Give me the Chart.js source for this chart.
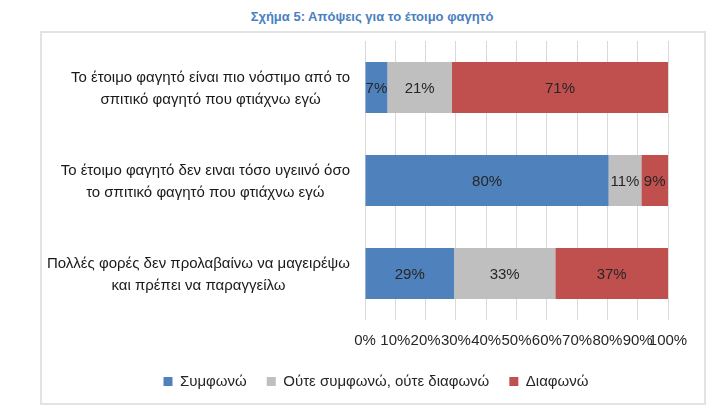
<!DOCTYPE html>
<html>
<head>
<meta charset="utf-8">
<script src="https://cdn.jsdelivr.net/npm/chart.js@4/dist/chart.umd.min.js"></script>
<style>
  html, body { margin: 0; padding: 0; background: #ffffff; }
  #wrap { position: relative; width: 717px; height: 408px; overflow: hidden; }
  #title { position: absolute; left: 0; width: 744px; top: 9px; text-align: center;
    font: bold 13px "Liberation Sans", Arial, sans-serif; color: #4a7fc1; }
  #box { position: absolute; left: 40px; top: 31px; width: 662px; height: 370px;
    border: 2px solid #e3e3e3; pointer-events: none; }
  canvas { position: absolute; left: 0; top: 0; }
</style>
</head>
<body>
<div id="wrap">
  <div id="title">Σχήμα 5: Απόψεις για το έτοιμο φαγητό</div>
  <div id="box"></div>
  <canvas id="c" width="717" height="408"></canvas>
</div>
<script>
const categories = [
  ["Το έτοιμο φαγητό είναι πιο νόστιμο από το", "σπιτικό φαγητό που φτιάχνω εγώ"],
  ["Το έτοιμο φαγητό δεν ειναι τόσο υγειινό όσο", "το σπιτικό φαγητό που φτιάχνω εγώ"],
  ["Πολλές φορές δεν προλαβαίνω να μαγειρέψω", "και πρέπει να παραγγείλω"]
];
const seriesNames = ["Συμφωνώ", "Ούτε συμφωνώ, ούτε διαφωνώ", "Διαφωνώ"];
const agree    = [7.4, 80.4, 29.4];
const neutral  = [21.3, 10.8, 33.4];
const disagree = [71.3, 8.8, 37.2];
const xTicks = [0, 10, 20, 30, 40, 50, 60, 70, 80, 90, 100];
const colors = ["#4f81bd", "#bfbfbf", "#c0504d"];

const FONT = "'Liberation Sans', Arial, sans-serif";

const valueLabels = {
  id: 'valueLabels',
  afterDatasetsDraw(chart) {
    const ctx = chart.ctx;
    ctx.save();
    ctx.font = "15px " + FONT;
    ctx.fillStyle = "#262626";
    ctx.textAlign = "center";
    ctx.textBaseline = "middle";
    chart.data.datasets.forEach((ds, di) => {
      const meta = chart.getDatasetMeta(di);
      meta.data.forEach((el, i) => {
        const v = ds.data[i];
        const cx = (el.x + el.base) / 2;
        ctx.fillText(Math.round(v) + "%", cx, el.y + 1);
      });
    });
    ctx.restore();
  }
};

const catLabels = {
  id: 'catLabels',
  afterDraw(chart) {
    const ctx = chart.ctx;
    const ys = chart.scales.y;
    ctx.save();
    ctx.font = "15px " + FONT;
    ctx.fillStyle = "#1a1a1a";
    ctx.textAlign = "center";
    ctx.textBaseline = "middle";
    const lh = 22;
    categories.forEach((lines, i) => {
      const cy = ys.getPixelForValue(i);
      const maxW = Math.max(...lines.map(l => ctx.measureText(l).width));
      const right = ys.right - 15;
      const cx = right - maxW / 2;
      const y0 = cy - (lines.length - 1) * lh / 2 + 1;
      lines.forEach((l, k) => ctx.fillText(l, cx, y0 + k * lh));
    });
    ctx.restore();
  }
};

new Chart(document.getElementById('c'), {
  type: 'bar',
  data: {
    labels: categories,
    datasets: [
      { label: seriesNames[0], data: agree, backgroundColor: colors[0] },
      { label: seriesNames[1], data: neutral, backgroundColor: colors[1] },
      { label: seriesNames[2], data: disagree, backgroundColor: colors[2] }
    ]
  },
  options: {
    indexAxis: 'y',
    responsive: false,
    animation: false,
    devicePixelRatio: 1,
    layout: { padding: { left: 84, right: 49, top: 41, bottom: 9 } },
    datasets: { bar: { categoryPercentage: 1, barPercentage: 0.55 } },
    scales: {
      x: {
        stacked: true, min: 0, max: 100,
        afterBuildTicks: s => { s.ticks = xTicks.map(v => ({ value: v })); },
        afterFit: s => { s.height -= 8; },
        ticks: {
          autoSkip: false, maxRotation: 0, padding: 12,
          color: "#262626", font: { family: FONT, size: 15 },
          callback: v => v + "%"
        },
        grid: { color: "#d9d9d9", drawTicks: false, lineWidth: 1 },
        border: { display: false }
      },
      y: {
        stacked: true,
        ticks: { display: false },
        grid: { display: false },
        border: { display: false },
        afterFit: s => { s.width = 281; }
      }
    },
    plugins: {
      legend: {
        position: 'bottom',
        labels: {
          boxWidth: 9, boxHeight: 9, padding: 20,
          color: "#262626", font: { family: FONT, size: 15 }
        }
      },
      tooltip: { enabled: false },
      title: { display: false }
    }
  },
  plugins: [valueLabels, catLabels]
});
</script>
</body>
</html>
